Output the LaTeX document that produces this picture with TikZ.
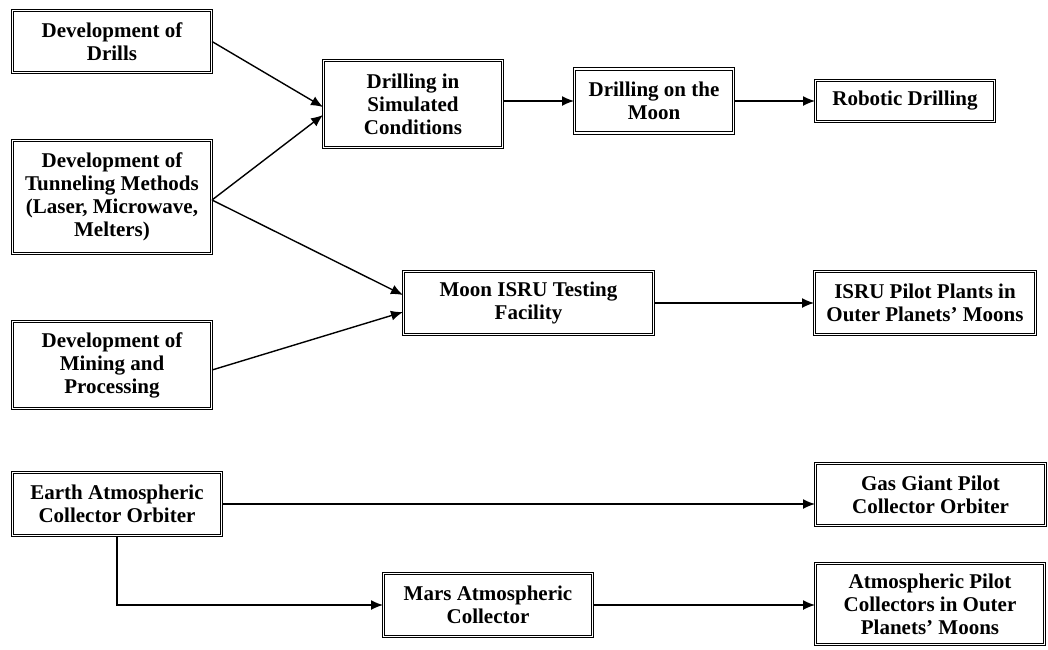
\documentclass[tikz,border=0pt]{standalone}
\usepackage{fontspec}
\setmainfont{Liberation Serif}
\usetikzlibrary{arrows.meta, calc}

\begin{document}
\begin{tikzpicture}[x=1pt, y=-1pt, font=\bfseries\fontsize{21}{23}\selectfont,
  b/.style={draw, double, double distance=1.6pt, line width=1pt, align=center, inner sep=0pt, fill=white},
  fl/.style={-{Latex[length=12pt, width=10pt]}, line width=1.4pt}]
  \useasboundingbox (0,0) rectangle (1048,649);
  % sources on the left
  \node[b, minimum width=199, minimum height=62] (drills) at (112,41.5) {Development of\\ Drills};
  \node[b, minimum width=199, minimum height=113] (tunnel) at (112,197) {Development of\\ Tunneling Methods\\ (Laser, Microwave,\\ Melters)};
  \node[b, minimum width=199, minimum height=87] (mining) at (112,365) {Development of\\ Mining and\\ Processing};
  % drilling line
  \node[b, minimum width=179, minimum height=87] (sim) at (413,104) {Drilling in\\ Simulated\\ Conditions};
  \node[b, minimum width=159, minimum height=64] (moon) at (654,101) {Drilling on the\\ Moon};
  \node[b, minimum width=179, minimum height=41] (robot) at (905,101) {Robotic Drilling};
  % ISRU line
  \node[b, minimum width=250, minimum height=63] (test) at (528.5,303) {Moon ISRU Testing\\ Facility};
  \node[b, minimum width=221, minimum height=63] (pilot) at (925,303) {ISRU Pilot Plants in\\ Outer Planets' Moons};
  % atmospheric collectors
  \node[b, minimum width=209, minimum height=63] (earth) at (117,504) {Earth Atmospheric\\ Collector Orbiter};
  \node[b, minimum width=230, minimum height=62] (gas) at (930.5,494.5) {Gas Giant Pilot\\ Collector Orbiter};
  \node[b, minimum width=209, minimum height=63] (mars) at (488,605) {Mars Atmospheric\\ Collector};
  \node[b, minimum width=229, minimum height=81] (atm) at (930,604) {Atmospheric Pilot\\ Collectors in Outer\\ Planets' Moons};
  \draw[fl] (drills.east) -- ($(sim.west)+(0,3)$);
  \draw[fl] ($(tunnel.east)+(0,3)$) -- ($(sim.west)+(0,11)$);
  \draw[fl] ($(tunnel.east)+(0,3)$) -- ($(test.west)+(0,-8)$);
  \draw[fl] ($(mining.east)+(0,5)$) -- ($(test.west)+(0,9)$);
  \draw[fl] ($(sim.east)+(0,-3)$) -- ($(sim.east -| moon.west)+(0,-3)$); \draw[fl] (moon.east) -- (moon.east -| robot.west);
  \draw[fl] (test.east) -- (test.east -| pilot.west);
  \draw[fl] (earth.east) -- (earth.east -| gas.west);
  \draw[fl] (earth.south) |- (mars.west);
  \draw[fl] (mars.east) -- (mars.east -| atm.west);
\end{tikzpicture}
\end{document}
